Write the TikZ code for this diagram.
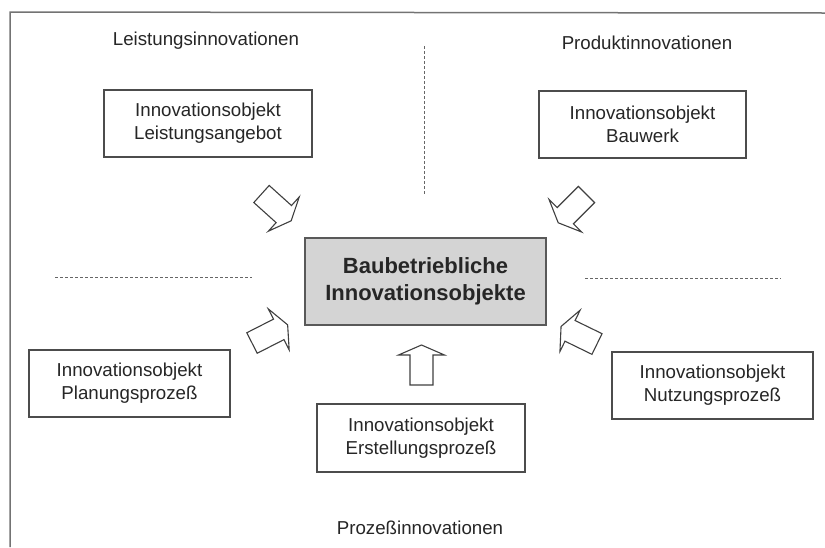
\documentclass[tikz,border=0pt]{standalone}
\usepackage{fontspec}
\setmainfont{Liberation Sans}
\begin{document}
\begin{tikzpicture}[x=1pt,y=-1pt,
  every node/.style={text=black!85},
  objbox/.style={draw=black!70, line width=1.3pt, fill=white, minimum width=#1, minimum height=67pt,
    align=center, inner sep=0pt, font=\fontsize{18.7}{23}\selectfont},
  corebox/.style={draw=black!65, line width=1.2pt, fill=black!17, minimum width=241pt, minimum height=87pt,
    align=center, inner sep=0pt, font=\fontsize{22}{26.5}\selectfont\bfseries},
  caption/.style={font=\fontsize{18.7}{23}\selectfont},
  divider/.style={draw=black!60, line width=1pt, dash pattern=on 3pt off 2pt},
  arrowline/.style={draw=black!75, line width=1.1pt, fill=white, line join=miter},
  blkarrow/.pic={\path[arrowline] (0,-11.5) -- (30,-11.5) -- (30,-23) -- (40,0) -- (30,23) -- (30,11.5) -- (0,11.5) -- cycle;}
]
\useasboundingbox (0,0) rectangle (825,547);

% frame (left and top edges)
\draw[black!55, line width=1.5pt] (10,547) -- (10,12) -- (825,13);

% dividers between the innovation fields
\draw[divider] (424,46) -- (424,195);
\draw[divider] (55,277) -- (252,277);
\draw[divider] (585,278) -- (781,278);

% field captions
\node[caption] (lcap) at (206,41) {Leistungsinnovationen};
\node[caption] (pcap) at (647,43) {Produktinnovationen};
\node[caption] (zcap) at (420,528) {Prozeßinnovationen};

% central object
\node[corebox] (core) at (425.5,281.5) {Baubetriebliche\\Innovationsobjekte};

% innovation objects
\node[objbox=208pt] (la) at (208,123.5) {Innovationsobjekt\\Leistungsangebot};
\node[objbox=207pt] (bw) at (642.5,124.5) {Innovationsobjekt\\Bauwerk};
\node[objbox=201pt] (pl) at (129.5,383.5) {Innovationsobjekt\\Planungsprozeß};
\node[objbox=201pt] (nu) at (712.5,385.5) {Innovationsobjekt\\Nutzungsprozeß};
\node[objbox=208pt, minimum height=68pt] (er) at (421,438) {Innovationsobjekt\\Erstellungsprozeß};

% block arrows pointing at the central object
\pic[rotate=-42] at (261.5,194) {blkarrow};
\pic[rotate=-135] at (586.5,194.5) {blkarrow};
\pic[rotate=27] at (252,343) {blkarrow};
\pic[rotate=154] at (597,344) {blkarrow};
\pic[rotate=90, scale=1] at (421.5,385) {blkarrow};
\end{tikzpicture}
\end{document}
